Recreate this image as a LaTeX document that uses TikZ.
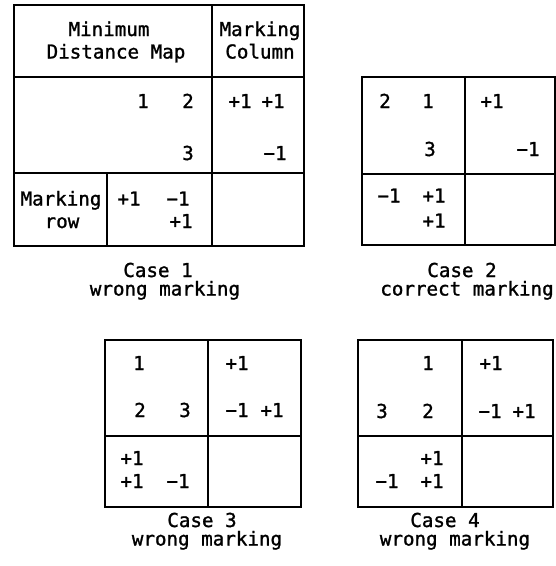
\documentclass[tikz,border=0pt]{standalone}
\usepackage{fontspec}
\newfontfamily\plotfont[FakeBold=1.3]{DejaVu Sans Mono}
\begin{document}
\begin{tikzpicture}[x=1pt,y=-1pt,
  grid/.style={line width=1.3pt, line cap=rect},
  txt/.style={font=\plotfont\fontsize{19.2}{22}\selectfont, inner sep=0pt, anchor=base},
]
\useasboundingbox (0,0) rectangle (556,566);

% ---------- Case 1 ----------
\draw[grid] (14,5) rectangle (304,246);
\draw[grid] (212,5) -- (212,246);
\draw[grid] (14,77) -- (304,77);
\draw[grid] (14,173) -- (304,173);
\draw[grid] (107,173) -- (107,246);

\node[txt] (aMin)  at (109,36)   {Minimum};
\node[txt] (aDist) at (116,58.5) {Distance Map};
\node[txt] (aMark) at (260,36)   {Marking};
\node[txt] (aCol)  at (260,58.5) {Column};
\node[txt] (aD1)   at (143,108)  {1};
\node[txt] (aD2)   at (188,108)  {2};
\node[txt] (aC1)   at (240,108)  {+1};
\node[txt] (aC2)   at (273,108)  {+1};
\node[txt] (aD3)   at (188,160)  {3};
\node[txt] (aC3)   at (275,160)  {−1};
\node[txt] (aRow1) at (61,205.5) {Marking};
\node[txt] (aRow2) at (62,228)   {row};
\node[txt] (aR1)   at (129,205.5){+1};
\node[txt] (aR2)   at (178,205.5){−1};
\node[txt] (aR3)   at (181,228)  {+1};
\node[txt] (aCap1) at (158,277)  {Case 1};
\node[txt] (aCap2) at (165,295.5){wrong marking};

% ---------- Case 2 ----------
\draw[grid] (362,77) rectangle (555,245);
\draw[grid] (465,77) -- (465,245);
\draw[grid] (362,174) -- (555,174);

\node[txt] (bD2)   at (385,108)  {2};
\node[txt] (bD1)   at (428,108)  {1};
\node[txt] (bC1)   at (492,108)  {+1};
\node[txt] (bD3)   at (430,156)  {3};
\node[txt] (bC2)   at (528,156)  {−1};
\node[txt] (bR1)   at (389,202.5){−1};
\node[txt] (bR2)   at (434,202.5){+1};
\node[txt] (bR3)   at (434,227.5){+1};
\node[txt] (bCap1) at (462,277)  {Case 2};
\node[txt] (bCap2) at (467,295.5){correct marking};

% ---------- Case 3 ----------
\draw[grid] (105,340) rectangle (301,507);
\draw[grid] (208,340) -- (208,507);
\draw[grid] (105,436) -- (301,436);

\node[txt] (cD1)   at (139,370)  {1};
\node[txt] (cC1)   at (237,370)  {+1};
\node[txt] (cD2)   at (140,417)  {2};
\node[txt] (cD3)   at (185,417)  {3};
\node[txt] (cC2)   at (237,417)  {−1};
\node[txt] (cC3)   at (272,417)  {+1};
\node[txt] (cR1)   at (132,465)  {+1};
\node[txt] (cR2)   at (132,488)  {+1};
\node[txt] (cR3)   at (178,488)  {−1};
\node[txt] (cCap1) at (202,527)  {Case 3};
\node[txt] (cCap2) at (207,545.5){wrong marking};

% ---------- Case 4 ----------
\draw[grid] (358,340) rectangle (553,507);
\draw[grid] (462,340) -- (462,507);
\draw[grid] (358,436) -- (553,436);

\node[txt] (dD1)   at (428,370)  {1};
\node[txt] (dC1)   at (491,370)  {+1};
\node[txt] (dD3)   at (382,418)  {3};
\node[txt] (dD2)   at (428,418)  {2};
\node[txt] (dC2)   at (490,418)  {−1};
\node[txt] (dC3)   at (524,418)  {+1};
\node[txt] (dR1)   at (432,465)  {+1};
\node[txt] (dR2)   at (387,488)  {−1};
\node[txt] (dR3)   at (432,488)  {+1};
\node[txt] (dCap1) at (445,527)  {Case 4};
\node[txt] (dCap2) at (455,545.5){wrong marking};
\end{tikzpicture}
\end{document}
